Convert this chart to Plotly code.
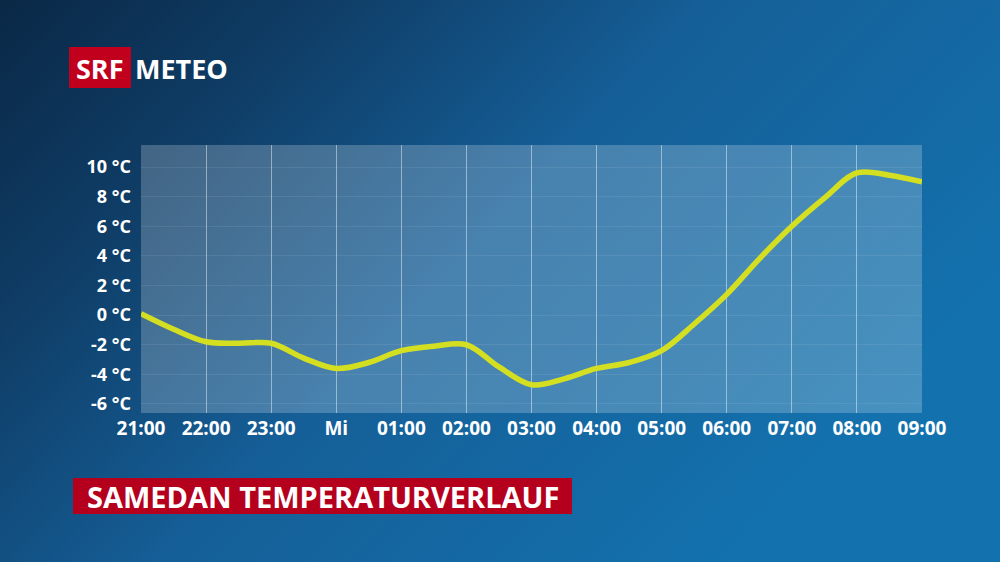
import base64
import plotly.graph_objects as go

# ---- data ----
hours = [0, 0.5, 1, 1.5, 2, 2.5, 3, 3.5, 4, 4.5, 5, 5.5, 6, 6.5, 7, 7.5, 8, 8.5, 9, 9.5, 10, 10.5, 11, 11.5, 12]
temps = [0.1, -0.95, -1.8, -1.9, -1.9, -2.9, -3.6, -3.2, -2.4, -2.1, -2.0, -3.5, -4.7, -4.3, -3.6, -3.2, -2.4, -0.6, 1.4, 3.8, 6.0, 7.9, 9.6, 9.45, 9.0]
x_tick_vals = [0, 1, 2, 3, 4, 5, 6, 7, 8, 9, 10, 11, 12]
x_tick_labels = ["21:00", "22:00", "23:00", "Mi", "01:00", "02:00", "03:00", "04:00", "05:00", "06:00", "07:00", "08:00", "09:00"]
y_tick_vals = [10, 8, 6, 4, 2, 0, -2, -4, -6]
y_tick_labels = ["10 °C", "8 °C", "6 °C", "4 °C", "2 °C", "0 °C", "-2 °C", "-4 °C", "-6 °C"]
title_text = "SAMEDAN TEMPERATURVERLAUF"

W, H = 1000, 562
L, R, T, B = 141, 922, 145, 413
FONT = "Open Sans"


def px(xp):
    return (xp - L) / (R - L)


def py(yp):
    return (B - yp) / (B - T)


svg = f'''<svg xmlns="http://www.w3.org/2000/svg" width="{W}" height="{H}" viewBox="0 0 {W} {H}" preserveAspectRatio="none">
<defs><linearGradient id="g" x1="0" y1="0" x2="1" y2="0.55">
<stop offset="0" stop-color="#0a2846"/>
<stop offset="0.25" stop-color="#0f3d66"/>
<stop offset="0.55" stop-color="#155f98"/>
<stop offset="1" stop-color="#1372ae"/>
</linearGradient></defs>
<rect width="{W}" height="{H}" fill="url(#g)"/></svg>'''
bg_src = "data:image/svg+xml;base64," + base64.b64encode(svg.encode()).decode()

fig = go.Figure()
fig.add_trace(go.Scatter(
    x=hours, y=temps, mode="lines",
    line=dict(color="#d4df22", width=5.5, shape="spline", smoothing=1.0),
    hoverinfo="skip", showlegend=False,
))

fig.add_layout_image(dict(
    source=bg_src, xref="paper", yref="paper",
    x=px(0), y=py(0), sizex=W / (R - L), sizey=H / (B - T),
    xanchor="left", yanchor="top", sizing="stretch", layer="below",
))

shapes = [
    dict(type="rect", xref="paper", yref="paper", x0=0, x1=1, y0=0, y1=1,
         fillcolor="rgba(255,255,255,0.22)", line=dict(width=0), layer="below"),
    dict(type="rect", xref="paper", yref="paper", x0=px(69), x1=px(131), y0=py(88), y1=py(47),
         fillcolor="#c0001c", line=dict(width=0), layer="above"),
    dict(type="rect", xref="paper", yref="paper", x0=px(73), x1=px(572), y0=py(514), y1=py(478),
         fillcolor="#b5001d", line=dict(width=0), layer="above"),
]

annotations = [
    dict(text="<b>SRF</b>", xref="paper", yref="paper", x=px(100), y=py(68),
         xanchor="center", yanchor="middle", showarrow=False,
         font=dict(family=FONT, size=27, color="white")),
    dict(text="<b>METEO</b>", xref="paper", yref="paper", x=px(133), y=py(68),
         xanchor="left", yanchor="middle", showarrow=False,
         font=dict(family=FONT, size=27, color="white")),
    dict(text="<b>" + title_text + "</b>", xref="paper", yref="paper", x=px(323), y=py(496),
         xanchor="center", yanchor="middle", showarrow=False,
         font=dict(family=FONT, size=29, color="white")),
]

fig.update_layout(
    width=W, height=H,
    margin=dict(l=L, r=W - R, t=T, b=H - B, pad=0),
    paper_bgcolor="#0d3558", plot_bgcolor="rgba(0,0,0,0)",
    shapes=shapes, annotations=annotations,
    xaxis=dict(range=[0, 12], tickvals=x_tick_vals, ticktext=x_tick_labels,
               showgrid=True, gridcolor="rgba(255,255,255,0.45)", gridwidth=1,
               zeroline=False, showline=False, ticks="", ticklabelstandoff=2,
               tickfont=dict(family=FONT, size=19, color="white", weight="bold")),
    yaxis=dict(range=[-6.61, 11.49], tickvals=y_tick_vals, ticktext=y_tick_labels,
               showgrid=True, gridcolor="rgba(255,255,255,0.08)", gridwidth=1,
               zeroline=False, showline=False, ticks="", ticklabelstandoff=9,
               tickfont=dict(family=FONT, size=18, color="white", weight="bold")),
)

fig.write_html("out.html", config={"displayModeBar": False},
               post_script="document.body.style.margin='0';document.body.style.overflow='hidden';")
